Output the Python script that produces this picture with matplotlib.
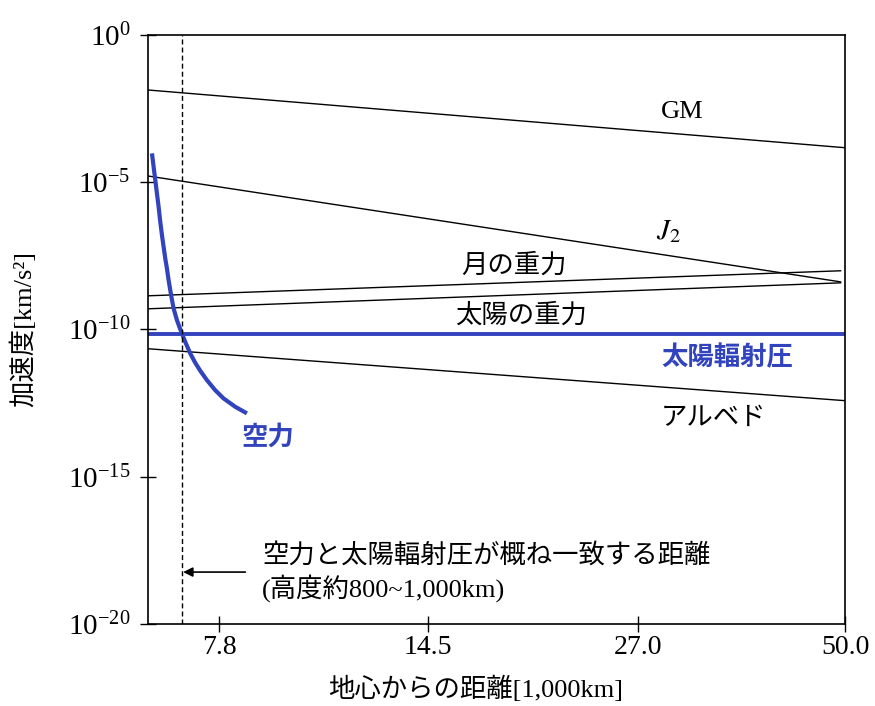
import numpy as np
import matplotlib
matplotlib.use("Agg")
import matplotlib.pyplot as plt
from matplotlib.ticker import NullLocator, FixedLocator, FixedFormatter

plt.rcParams['font.family'] = ['Liberation Serif', 'Noto Sans CJK JP', 'DejaVu Sans']
plt.rcParams['mathtext.fontset'] = 'stix'

# ---- data (distance from Earth's centre [1000 km], acceleration [km/s^2]) ----
x_range = [6.32, 50.0]
x_ticks = [7.8, 14.5, 27.0, 50.0]
y_ticks = [1e0, 1e-5, 1e-10, 1e-15, 1e-20]

gm_x = [6.32, 50.0]
gm_y = [1.33e-2, 1.46e-4]
j2_x = [6.32, 49.3]
j2_y = [1.6e-5, 4.1e-9]
moon_x = [6.32, 49.3]
moon_y = [1.38e-9, 9.75e-9]
sun_x = [6.32, 49.3]
sun_y = [5.0e-10, 3.8e-9]
srp_y = 6.8e-11
albedo_x = [6.32, 50.0]
albedo_y = [2.2e-11, 3.8e-13]
aero_x = [6.389, 6.420, 6.452, 6.484, 6.516, 6.548, 6.581, 6.613, 6.646,
          6.679, 6.712, 6.745, 6.778, 6.812, 6.880, 6.934, 6.982, 7.051,
          7.157, 7.264, 7.373, 7.520, 7.706, 7.901, 8.180, 8.468]
aero_y = [9.4e-5, 3.31e-5, 1.17e-5, 4.12e-6, 1.45e-6, 4.5e-7, 1.59e-7,
          6.38e-8, 2.56e-8, 1.17e-8, 4.71e-9, 2.16e-9, 1.04e-9, 5.15e-10,
          2.07e-10, 1.17e-10, 7.3e-11, 3.8e-11, 1.53e-11, 7.36e-12,
          3.94e-12, 1.9e-12, 8.7e-13, 4.54e-13, 2.36e-13, 1.41e-13]
match_x = 6.98   # 空力と太陽輻射圧が一致する距離

blue = '#3243BE'
cjk = ['Noto Sans CJK JP', 'DejaVu Sans']
fs = 19

fig = plt.figure(figsize=(8.75, 7.06), dpi=100)
ax = fig.add_axes([0.1695, 0.1161, 0.7966, 0.8347])
ax.set_xscale('log')
ax.set_yscale('log')

ax.plot(gm_x, gm_y, color='black', lw=1.0)
ax.plot(j2_x, j2_y, color='black', lw=1.0)
ax.plot(moon_x, moon_y, color='black', lw=1.0)
ax.plot(sun_x, sun_y, color='black', lw=1.0)
ax.plot(albedo_x, albedo_y, color='black', lw=1.0)
ax.axhline(srp_y, color=blue, lw=2.8)
ax.plot(aero_x, aero_y, color=blue, lw=3.0, solid_capstyle='butt')
ax.axvline(match_x, color='black', lw=1.0, ls=(0, (3.6, 2.2)))

# labels
ax.text(30.8, 2.4e-3, 'GM', fontsize=fs, ha='center', va='center')
ax.text(29.6, 2.0e-7, r'$J_2$', fontsize=21, ha='center', va='center')
ax.text(18.7, 1.5e-8, '月の重力', fontsize=fs, ha='center', va='center', family=cjk)
ax.text(19.1, 3.05e-10, '太陽の重力', fontsize=fs, ha='center', va='center', family=cjk)
ax.text(35.2, 1.06e-11, '太陽輻射圧', fontsize=fs, ha='center', va='center',
        color=blue, fontweight='bold', family=cjk)
ax.text(33.8, 1.05e-13, 'アルベド', fontsize=fs, ha='center', va='center', family=cjk)
ax.text(9.02, 2.2e-14, '空力', fontsize=fs, ha='center', va='center',
        color=blue, fontweight='bold', family=cjk)

ax.annotate('', xy=(match_x, 5.8e-19), xytext=(8.43, 5.8e-19),
            arrowprops=dict(arrowstyle='-|>', color='black', lw=1.2,
                            mutation_scale=14, shrinkA=0, shrinkB=1))
ax.text(8.86, 2.2e-18, '空力と太陽輻射圧が概ね一致する距離', fontsize=fs,
        ha='left', va='center', family=cjk)
ax.text(8.86, 1.66e-19, '(高度約800~1,000km)', fontsize=fs,
        ha='left', va='center')

ax.set_xlim(x_range)
ax.set_ylim(1e-20, 1e0)
ax.xaxis.set_major_locator(FixedLocator(x_ticks))
ax.xaxis.set_major_formatter(FixedFormatter([f'{v:.1f}' for v in x_ticks]))
ax.xaxis.set_minor_locator(NullLocator())
ax.yaxis.set_major_locator(FixedLocator(y_ticks))
ax.yaxis.set_minor_locator(NullLocator())
ax.tick_params(axis='both', direction='inout', length=12, width=1.0)
ax.tick_params(axis='x', pad=2, labelsize=20)
ax.tick_params(axis='y', pad=7, labelsize=21)
for s in ax.spines.values():
    s.set_linewidth(1.2)

ax.set_xlabel('地心からの距離[1,000km]', fontsize=fs)
ax.set_ylabel('加速度[km/s²]', fontsize=fs)
ax.xaxis.set_label_coords(0.470, -0.088)
ax.yaxis.set_label_coords(-0.161, 0.5)

fig.savefig('out.png', dpi=100)
